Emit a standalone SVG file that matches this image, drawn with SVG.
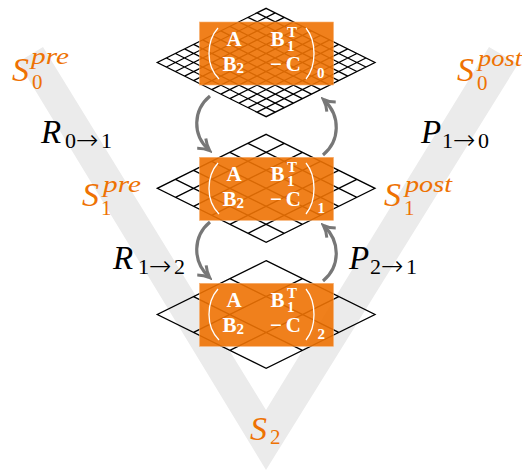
<svg xmlns="http://www.w3.org/2000/svg" xmlns:xlink="http://www.w3.org/1999/xlink" width="522" height="471" viewBox="0 0 522 471">
<style>
.g{fill:none;stroke:#000;stroke-width:1.3}
.m{fill:#fff;font-family:"Liberation Serif",serif;font-weight:bold;font-size:21px}
.ms{font-size:15px}
.p{fill:none;stroke:#fff;stroke-width:1.3}
.o{fill:#ee7203;font-family:"Liberation Serif",serif;font-style:italic}
.n{font-style:normal;font-size:21px}
.z{font-size:34px}
.u{font-size:23px}
.k{fill:#000;font-family:"Liberation Serif",serif;font-size:22px}
.i{font-style:italic;font-size:33px}
.w{font-family:"DejaVu Sans",sans-serif;font-weight:200;font-size:27px}
.a{fill:none;stroke:#777;stroke-width:3.2;marker-end:url(#h)}
.r{fill:#ee7203;fill-opacity:.9;stroke:#f7b070;stroke-width:.6}
</style>
<defs>
<marker id="h" markerUnits="userSpaceOnUse" markerWidth="16" markerHeight="16" refX="12" refY="8" orient="auto"><path d="M2 1.500Q7 6 13 8Q7 10 2 14.500" fill="none" stroke="#777" stroke-width="3"/></marker>
<g id="mat">
<path class="p" d="M218 28Q209 38 209 53.500Q209 69 219 79"/>
<path class="p" d="M306 28Q314 38 314 53.500Q314 69 306 79"/>
<text class="m" x="226.500" y="46">A</text>
<text class="m" x="222.500" y="71">B<tspan class="ms" dy="2">2</tspan></text>
<text class="m" x="270.500" y="46">B</text>
<text class="m ms" x="287" y="37">T</text>
<text class="m ms" x="287" y="51">1</text>
<text class="m" x="270" y="71" textLength="31" lengthAdjust="spacing">−C</text>
</g>
</defs>
<g id="vband"><path d="M43 47L266 410L489 47L518 64L266 470L18 62Z" fill="#ebebeb"/></g>

<g id="level0">
<path class="g" d="M266.150 8.300L375 62.500L266.150 116.700L157.300 62.500Z
M257.080 12.820l108.850 54.200M248.010 17.330l108.850 54.200M238.940 21.850l108.850 54.200M229.870 26.370l108.850 54.200M220.800 30.880l108.850 54.200M211.730 35.400l108.850 54.200M202.660 39.920l108.850 54.200M193.590 44.430l108.850 54.200M184.520 48.950l108.850 54.200M175.450 53.470l108.850 54.200M166.380 57.980l108.850 54.200
M275.220 12.820l-108.850 54.200M284.290 17.330l-108.850 54.200M293.360 21.850l-108.850 54.200M302.430 26.370l-108.850 54.200M311.500 30.880l-108.850 54.200M320.570 35.400l-108.850 54.200M329.640 39.920l-108.850 54.200M338.710 44.430l-108.850 54.200M347.780 48.950l-108.850 54.200M356.850 53.470l-108.850 54.200M365.920 57.980l-108.850 54.200"/>
<rect class="r" x="199.500" y="22" width="134" height="63"/>
<use xlink:href="#mat" href="#mat"/>
<text class="m ms" x="317" y="78">0</text>
</g>
<g id="level1">
<path class="g" d="M266.150 134.300L375 188.300L266.150 242.300L157.300 188.300Z
M248.010 143.300l108.850 54M229.870 152.300l108.850 54M211.730 161.300l108.850 54M193.590 170.300l108.850 54M175.450 179.300l108.850 54
M284.290 143.300l-108.850 54M302.430 152.300l-108.850 54M320.570 161.300l-108.850 54M338.710 170.300l-108.850 54M356.850 179.300l-108.850 54"/>
<rect class="r" x="199.500" y="157.300" width="134" height="63"/>
<use xlink:href="#mat" href="#mat" y="135"/>
<text class="m ms" x="317.500" y="213">1</text>
</g>
<g id="level2">
<path class="g" d="M266.150 260.700L375 314.500L266.150 368.300L157.300 314.500Z
M229.870 278.630l108.850 53.800M193.590 296.570l108.850 53.800
M302.430 278.630l-108.850 53.800M338.710 296.570l-108.850 53.800"/>
<rect class="r" x="199.500" y="283.300" width="134" height="63"/>
<use xlink:href="#mat" href="#mat" y="261"/>
<text class="m ms" x="317.500" y="339">2</text>
</g>

<g id="connectors">
<path class="a" d="M210 96C193 110 192 135 209 150"/>
<path class="a" d="M210 222C193 236 192 261 209 277"/>
<path class="a" d="M323 155C340 141 341 116 324 100"/>
<path class="a" d="M323 281C340 267 341 242 324 226"/>
</g>

<g id="labels">
<text class="o z" x="12" y="81">S</text><text class="o n" x="32" y="89">0</text><text class="o u" x="31" y="64" textLength="38" lengthAdjust="spacingAndGlyphs">pre</text>
<text class="o z" x="457" y="81">S</text><text class="o n" x="477" y="90">0</text><text class="o u" x="478" y="66" textLength="44" lengthAdjust="spacingAndGlyphs">post</text>
<text class="o z" x="82" y="206">S</text><text class="o n" x="101" y="215">1</text><text class="o u" x="103" y="192" textLength="38" lengthAdjust="spacingAndGlyphs">pre</text>
<text class="o z" x="384" y="206">S</text><text class="o n" x="404" y="215">1</text><text class="o u" x="405" y="192" textLength="47" lengthAdjust="spacingAndGlyphs">post</text>
<text class="o z" x="250" y="440">S</text><text class="o n" x="270" y="444">2</text>

<text class="k i" x="41" y="143">R</text><text class="k" x="65" y="148">0</text><text class="k w" x="76" y="149">→</text><text class="k" x="101" y="148">1</text>
<text class="k i" x="113" y="269">R</text><text class="k" x="138" y="274">1</text><text class="k w" x="149" y="275">→</text><text class="k" x="174" y="274">2</text>
<text class="k i" x="421" y="143">P</text><text class="k" x="442" y="148">1</text><text class="k w" x="453" y="149">→</text><text class="k" x="478" y="148">0</text>
<text class="k i" x="349" y="269">P</text><text class="k" x="370" y="274">2</text><text class="k w" x="381" y="275">→</text><text class="k" x="406" y="274">1</text>
</g>
</svg>
